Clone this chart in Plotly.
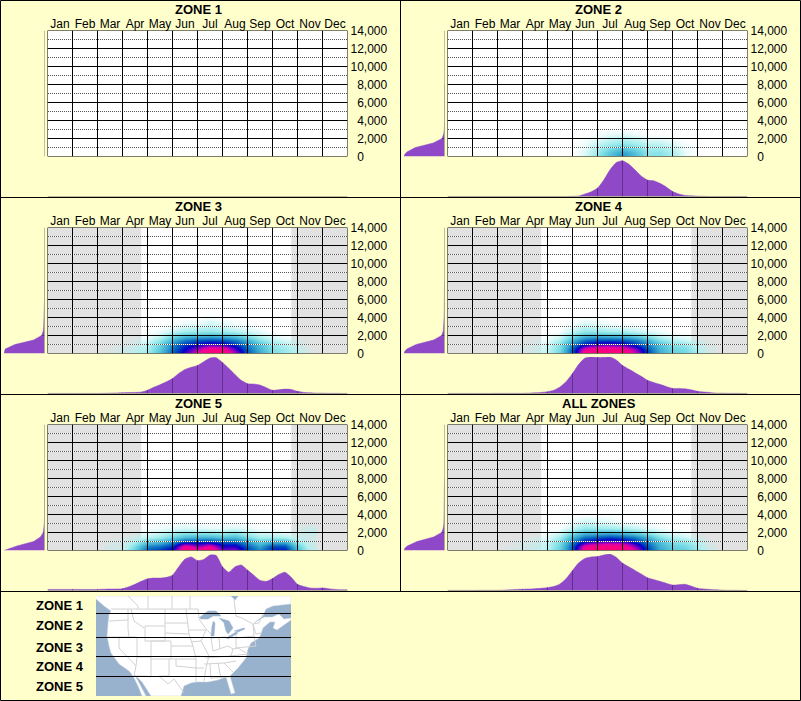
import numpy as np
import plotly.graph_objects as go

W, H = 801, 701
BG = "#FFFFCC"
PURPLE = "#8E48C8"
PURPLE_DARK = "#5E3088"
AXIS_GREY = "#808068"
FONT = "Liberation Sans, Arial, sans-serif"

MONTHS = ["Jan", "Feb", "Mar", "Apr", "May", "Jun", "Jul", "Aug", "Sep", "Oct", "Nov", "Dec"]
Y_TICKS = [0, 2000, 4000, 6000, 8000, 10000, 12000, 14000]
Y_LABELS = ["\u00a0\u00a00", "\u00a0\u00a02,000", "\u00a0\u00a04,000", "\u00a0\u00a06,000",
            "\u00a0\u00a08,000", "10,000", "12,000", "14,000"]
TITLES = ["ZONE 1", "ZONE 2", "ZONE 3", "ZONE 4", "ZONE 5", "ALL ZONES"]
LEGEND_ZONES = ["ZONE 1", "ZONE 2", "ZONE 3", "ZONE 4", "ZONE 5"]

# Monthly density profiles (quarter-month steps, Jan 1 .. Dec 31, peak about 100)
PROFILE_X = [i * 0.25 for i in range(49)]
ZONE2_MONTH = [0] * 20 + [0.5, 1.5, 7, 13, 23, 45, 73, 93, 98, 89, 73, 56, 45, 43, 36, 26, 14, 7, 3, 2, 1, 0.5] + [0] * 7
ZONE3_MONTH = [0.3] * 9 + [0.5, 1, 1.5, 2, 2.5, 3, 4, 9, 17, 24, 32, 41, 55, 66, 72, 77, 87, 97, 98, 85, 69, 52, 36, 27, 26, 23, 16, 9, 10, 12, 11, 6, 3, 2, 1, 1, 0.5, 0.5, 0.3, 0.3]
ZONE4_MONTH = [0.3] * 8 + [0.5, 0.5, 0.5, 0.5, 0.5, 1, 2, 3, 5, 9, 18, 33, 55, 80, 97, 100, 99, 99, 100, 92, 77, 67, 57, 47, 36, 30, 25, 19, 14, 14, 13, 10, 6, 4, 3, 1, 1, 0.5, 0.5, 0.3, 0.3]
ZONE5_MONTH = [3, 3, 3, 3, 3, 3, 2.5, 2.5, 3, 3.5, 4, 4, 5, 10, 17, 25, 32, 34, 34, 36, 42, 65, 86, 92, 82, 85, 97, 96, 65, 50, 65, 70, 56, 42, 28, 25, 33, 44, 50, 36, 17, 11, 7, 6, 7, 5, 3, 2, 2]
ALL_MONTH = [0.3] * 5 + [0.5, 0.5, 0.5, 0.5, 1, 2, 3, 3.5, 4, 5, 6, 8, 11, 18, 33, 55, 76, 88, 92, 93, 97, 100, 91, 75, 65, 55, 45, 35, 30, 25, 20, 15, 16, 17, 12, 6, 4, 3, 2, 1, 0.5, 0.5, 0.3, 0.3]

# Elevation density profiles (feet, relative density)
ELEV_Y = [0, 250, 500, 1000, 1500, 2000, 2500, 3000, 4000, 5000, 6000, 8000]
ZONE2_ELEV = [100, 98, 93, 72, 28, 6, 2, 0.5, 0, 0, 0, 0]
ZONE3_ELEV = [100, 99, 97, 73, 27, 7, 3, 2, 1, 0.5, 0, 0]
ZONE4_ELEV = [100, 98, 93, 70, 27, 7, 3, 2, 1, 0.5, 0, 0]
ZONE5_ELEV = [100, 85, 68, 27, 10, 3, 1.5, 0.5, 0, 0, 0, 0]
ALL_ELEV = [100, 98, 92, 68, 27, 7, 3, 1.5, 1, 0.5, 0, 0]

# Month-by-elevation density grids
HEAT_X = [2.5, 3, 3.5, 4, 4.5, 5, 5.5, 6, 6.5, 7, 7.5, 8, 8.5, 9, 9.5, 10, 10.5]
HEAT_Y = [0, 500, 1000, 1500, 2000, 2500, 3000, 3500, 4000]
ZONE2_HEAT = [
    [0, 0, 0, 0, 0, 0, 5, 16, 28, 40, 30, 17, 18, 12, 3, 0, 0],
    [0, 0, 0, 0, 0, 0, 4, 14, 26, 36, 28, 16, 17, 11, 3, 0, 0],
    [0, 0, 0, 0, 0, 0, 3, 11, 18, 24, 19, 12, 12, 8, 2, 0, 0],
    [0, 0, 0, 0, 0, 0, 2, 7, 12, 15, 12, 8, 8, 4, 1, 0, 0],
    [0, 0, 0, 0, 0, 0, 1, 3, 7, 9, 7, 3, 3, 1, 0, 0, 0],
    [0, 0, 0, 0, 0, 0, 0, 1, 3, 4, 2, 0, 0, 0, 0, 0, 0],
    [0] * 17, [0] * 17, [0] * 17,
]
ZONE3_HEAT = [
    [2, 5, 9, 14, 28, 50, 66, 88, 100, 100, 80, 50, 35, 20, 15, 8, 2],
    [1, 4, 7, 12, 26, 46, 62, 78, 95, 94, 70, 47, 32, 18, 14, 7, 1],
    [0, 2, 4, 10, 22, 42, 55, 62, 68, 66, 56, 42, 28, 15, 10, 5, 0],
    [0, 0, 2, 5, 15, 32, 44, 50, 52, 50, 44, 32, 18, 9, 5, 2, 0],
    [0, 0, 0, 2, 6, 18, 26, 28, 30, 28, 24, 15, 8, 3, 1, 0, 0],
    [0, 0, 0, 0, 2, 7, 12, 14, 15, 13, 10, 6, 3, 0, 0, 0, 0],
    [0, 0, 0, 0, 0, 2, 5, 6, 8, 6, 3, 2, 0, 0, 0, 0, 0],
    [0, 0, 0, 0, 0, 0, 2, 2, 5, 3, 1, 0, 0, 0, 0, 0, 0],
    [0, 0, 0, 0, 0, 0, 0, 0, 1, 0, 0, 0, 0, 0, 0, 0, 0],
]
ZONE4_HEAT = [
    [1, 2, 4, 8, 22, 52, 96, 100, 100, 100, 84, 54, 34, 24, 22, 12, 3],
    [1, 2, 4, 8, 20, 50, 88, 96, 96, 95, 76, 50, 32, 22, 20, 10, 2],
    [0, 1, 3, 6, 18, 42, 60, 68, 70, 66, 56, 42, 28, 18, 15, 7, 1],
    [0, 0, 1, 3, 11, 32, 46, 52, 52, 50, 44, 32, 18, 10, 7, 3, 0],
    [0, 0, 0, 1, 5, 18, 28, 30, 28, 27, 22, 14, 7, 3, 2, 0, 0],
    [0, 0, 0, 0, 1, 8, 15, 14, 12, 11, 8, 4, 2, 0, 0, 0, 0],
    [0, 0, 0, 0, 0, 3, 8, 6, 4, 3, 2, 1, 0, 0, 0, 0, 0],
    [0, 0, 0, 0, 0, 1, 4, 3, 1, 0, 0, 0, 0, 0, 0, 0, 0],
    [0] * 17,
]
ZONE5_HEAT = [
    [3, 5, 25, 50, 55, 65, 100, 90, 100, 74, 76, 54, 42, 58, 60, 30, 8],
    [3, 4, 20, 42, 46, 56, 90, 76, 88, 64, 66, 48, 36, 52, 52, 24, 6],
    [1, 3, 10, 24, 28, 38, 52, 54, 54, 48, 46, 36, 24, 30, 30, 13, 4],
    [0, 1, 4, 9, 14, 22, 30, 32, 32, 28, 30, 20, 12, 12, 11, 5, 3],
    [0, 0, 1, 3, 6, 10, 14, 14, 14, 11, 15, 9, 5, 4, 2, 3, 7],
    [0, 0, 0, 1, 2, 4, 5, 4, 3, 3, 5, 3, 1, 1, 0, 2, 5],
    [0, 0, 0, 0, 1, 1, 2, 1, 1, 1, 1, 1, 0, 0, 0, 0, 0],
    [0] * 17, [0] * 17,
]
ALL_HEAT = [
    [2, 3, 5, 9, 24, 52, 96, 100, 100, 100, 84, 54, 36, 26, 24, 14, 4],
    [1, 3, 5, 9, 22, 50, 88, 96, 96, 95, 76, 50, 33, 24, 21, 12, 3],
    [0, 2, 4, 7, 19, 42, 60, 66, 70, 67, 56, 42, 28, 18, 15, 8, 1],
    [0, 0, 2, 4, 12, 32, 46, 50, 54, 50, 44, 32, 18, 10, 7, 3, 0],
    [0, 0, 0, 1, 5, 18, 28, 28, 30, 27, 22, 14, 7, 3, 2, 0, 0],
    [0, 0, 0, 0, 1, 8, 15, 14, 13, 11, 8, 4, 2, 0, 0, 0, 0],
    [0, 0, 0, 0, 0, 3, 8, 6, 5, 3, 2, 1, 0, 0, 0, 0, 0],
    [0, 0, 0, 0, 0, 1, 4, 3, 2, 0, 0, 0, 0, 0, 0, 0, 0],
    [0] * 17,
]
HEAT_SCALE = [
    [0.00, "rgba(176,240,240,0)"], [0.04, "rgba(176,240,240,0.4)"], [0.10, "rgba(176,240,240,0.95)"],
    [0.20, "rgb(120,220,228)"], [0.35, "rgb(56,170,208)"], [0.50, "rgb(0,90,190)"],
    [0.62, "rgb(0,0,200)"], [0.74, "rgb(130,0,195)"], [0.85, "rgb(235,0,160)"], [1.00, "rgb(255,0,120)"],
]

# Map outlines, in map pixels measured from the map's top-left corner
MAP_W, MAP_H = 195, 100
LAND = [
    (0, 0), (195, 0), (195, 8), (177, 10), (170, 13), (167, 20), (158, 27), (168, 21), (176, 21), (183, 18), (188, 23),
    (195, 22), (195, 24), (181, 34), (177, 32), (179, 26), (174, 26), (167, 32), (165, 38), (163, 42), (155, 47),
    (152, 53), (150, 62), (142, 72), (134, 80), (139, 97), (135, 98), (130, 81), (122, 84), (112, 86), (100, 86),
    (95, 87), (88, 90), (85, 100), (55, 100), (46, 86), (39, 79), (44, 88), (50, 100), (46, 100), (42, 90), (37, 80),
    (33, 75), (23, 68), (15, 57), (13, 50), (11, 40), (12, 27), (13, 18), (15, 15), (8, 10), (0, 3),
]
LAKES = [
    [(135, 0), (142, 0), (139, 4)],
    [(103, 22), (112, 15), (120, 15), (125, 20), (117, 20), (112, 23), (105, 23)],
    [(117, 25), (119, 27), (118, 40), (115, 40), (116, 30)],
    [(123, 22), (133, 25), (137, 32), (132, 38), (130, 35), (128, 27)],
    [(130, 42), (140, 36), (142, 37), (132, 43)],
    [(138, 35), (148, 32), (149, 33), (142, 36)],
]
STATE_LINES = [
    [(15, 13), (102, 13), (103, 22)], [(32, 0), (42, 10), (42, 13)], [(52, 0), (52, 13)], [(76, 0), (76, 13)],
    [(94, 0), (94, 13)], [(32, 13), (32, 33), (33, 41)], [(13, 25), (32, 24)], [(11, 41), (41, 41)],
    [(35, 13), (38, 25), (48, 32)], [(49, 30), (69, 30), (69, 45), (49, 45), (49, 30)], [(41, 41), (41, 61), (55, 61), (55, 45)],
    [(23, 41), (23, 52), (40, 70), (41, 61)], [(40, 70), (38, 80), (50, 80), (55, 81), (55, 61)],
    [(55, 45), (75, 45), (75, 63), (55, 63)], [(73, 63), (73, 80), (63, 80)], [(69, 13), (69, 30)], [(69, 27), (92, 27)],
    [(69, 37), (93, 38)], [(75, 50), (97, 50)], [(75, 63), (100, 63)], [(90, 13), (92, 27), (93, 38), (97, 50), (100, 63)],
    [(80, 63), (80, 70), (100, 72), (108, 72)], [(63, 80), (72, 88), (78, 83), (88, 97)],
    [(103, 23), (110, 33), (115, 38)], [(93, 34), (110, 34)], [(95, 46), (105, 45)], [(110, 34), (105, 45), (113, 60), (110, 72), (108, 85)],
    [(115, 42), (117, 55)], [(100, 60), (112, 61)], [(100, 63), (100, 87)], [(110, 62), (135, 60)], [(108, 68), (128, 67)],
    [(117, 55), (123, 53), (132, 50), (137, 53), (135, 60)], [(123, 42), (124, 53)], [(115, 42), (130, 41)],
    [(140, 36), (140, 52), (160, 50), (158, 40), (140, 42)], [(158, 40), (157, 28), (146, 22)], [(157, 28), (160, 38), (165, 37)],
    [(133, 60), (153, 58)], [(137, 53), (142, 52), (150, 57)], [(114, 68), (115, 83)], [(122, 67), (125, 82)], [(115, 82), (133, 81)],
    [(128, 67), (140, 65)], [(128, 67), (138, 77)], [(163, 27), (167, 18)], [(157, 28), (163, 27)], [(138, 3), (140, 20), (146, 22)],
]
MAP_ZONE_LINES = [17.5, 41.5, 60.5, 80.5]
LEGEND_Y = [605, 625, 647, 666, 686]


def dom_x(a, b):
    return [a / W, b / W]


def dom_y(top, bottom):
    return [1 - bottom / H, 1 - top / H]


def grid_lines(xs, y0, y1, ys, x0, x1):
    out_x, out_y = [], []
    for x in xs:
        out_x += [x, x, None]
        out_y += [y0, y1, None]
    for y in ys:
        out_x += [x0, x1, None]
        out_y += [y, y, None]
    return out_x, out_y


PANELS = [
    dict(x=0, y=0, month=None, elev=None, heat=None, grey=False),
    dict(x=400, y=0, month=ZONE2_MONTH, elev=ZONE2_ELEV, heat=ZONE2_HEAT, grey=False),
    dict(x=0, y=197, month=ZONE3_MONTH, elev=ZONE3_ELEV, heat=ZONE3_HEAT, grey=True),
    dict(x=400, y=197, month=ZONE4_MONTH, elev=ZONE4_ELEV, heat=ZONE4_HEAT, grey=True),
    dict(x=0, y=394, month=ZONE5_MONTH, elev=ZONE5_ELEV, heat=ZONE5_HEAT, grey=True),
    dict(x=400, y=394, month=ALL_MONTH, elev=ALL_ELEV, heat=ALL_HEAT, grey=True),
]

fig = go.Figure()
layout = dict(
    template="none", width=W, height=H, margin=dict(l=0, r=0, t=0, b=0, pad=0, autoexpand=False), paper_bgcolor=BG,
    plot_bgcolor="rgba(0,0,0,0)", showlegend=False, font=dict(family=FONT, size=12, color="#000"), autosize=False,
)
shapes, annotations = [], []
HIDDEN = dict(visible=False, fixedrange=True, automargin=False)
LINE_KW = dict(mode="lines", hoverinfo="skip", cliponaxis=False)
n = 0


def new_axes():
    global n
    n += 1
    s = "" if n == 1 else str(n)
    return "x" + s, "y" + s, "xaxis" + s, "yaxis" + s


for title, p in zip(TITLES, PANELS):
    ox, oy = p["x"], p["y"]
    left, right = ox + 47.5, ox + 347.5
    top, bottom = oy + 30.5, oy + 156.5

    # main plot
    xa, ya, xk, yk = new_axes()
    layout[xk] = dict(domain=dom_x(left, right), range=[0, 12], anchor=ya, side="top", tickmode="array",
                      tickvals=[i + 0.5 for i in range(12)], ticktext=MONTHS, showgrid=False, zeroline=False,
                      ticks="", showline=False, fixedrange=True, ticklabelstandoff=-1,
                      tickfont=dict(family=FONT, size=12, color="#000"), tickangle=0, automargin=False)
    layout[yk] = dict(domain=dom_y(top, bottom), range=[0, 14000], anchor=xa, side="right", tickmode="array",
                      tickvals=Y_TICKS, ticktext=Y_LABELS, showgrid=False, zeroline=False,
                      ticks="", showline=False, fixedrange=True, ticklabelstandoff=2,
                      tickfont=dict(family=FONT, size=12, color="#000"), automargin=False)
    shapes.append(dict(type="rect", xref=xa, yref=ya, x0=0, x1=12, y0=0, y1=14000, fillcolor="white",
                       line=dict(width=0), layer="below"))
    if p["grey"]:
        for a, b in ((0, 3.75), (9.75, 12)):
            shapes.append(dict(type="rect", xref=xa, yref=ya, x0=a, x1=b, y0=0, y1=14000, fillcolor="#E2E2E2",
                               line=dict(width=0), layer="below"))
    if p["heat"] is not None:
        fig.add_trace(go.Heatmap(x=HEAT_X, y=HEAT_Y, z=p["heat"], xaxis=xa, yaxis=ya, zmin=0, zmax=100,
                                 colorscale=HEAT_SCALE, zsmooth="best", showscale=False, hoverinfo="skip"))
    dx, dy = grid_lines([], 0, 0, [1000, 3000, 5000, 7000, 9000, 11000, 13000], 0.02, 12)
    fig.add_trace(go.Scatter(x=dx, y=dy, xaxis=xa, yaxis=ya, line=dict(color="white", width=1), **LINE_KW))
    fig.add_trace(go.Scatter(x=dx, y=dy, xaxis=xa, yaxis=ya, line=dict(color="#555", width=1, dash="1px,1px"), **LINE_KW))
    gx, gy = grid_lines(list(range(13)), 0, 14000, Y_TICKS, 0, 12)
    fig.add_trace(go.Scatter(x=gx, y=gy, xaxis=xa, yaxis=ya, line=dict(color="#000", width=1), **LINE_KW))

    # month profile below
    xa, ya, xk, yk = new_axes()
    layout[xk] = dict(domain=dom_x(left, right), range=[0, 12], anchor=ya, **HIDDEN)
    layout[yk] = dict(domain=dom_y(oy + 160, oy + 196.5), range=[0, 100], anchor=xa, **HIDDEN)
    if p["month"] is not None:
        fig.add_trace(go.Scatter(x=PROFILE_X, y=p["month"], xaxis=xa, yaxis=ya, mode="lines", fill="tozeroy",
                                 fillcolor=PURPLE, line=dict(color=PURPLE, width=0.5, shape="spline", smoothing=0.6),
                                 hoverinfo="skip"))
        sx, sy = [], []
        for m in range(1, 12):
            sx += [m, m, None]
            sy += [0, float(np.interp(m, PROFILE_X, p["month"])), None]
        fig.add_trace(go.Scatter(x=sx, y=sy, xaxis=xa, yaxis=ya, line=dict(color=PURPLE_DARK, width=1), **LINE_KW))
    fig.add_trace(go.Scatter(x=[0, 12], y=[0, 0], xaxis=xa, yaxis=ya, line=dict(color=AXIS_GREY, width=1), **LINE_KW))

    # elevation profile at left
    xa, ya, xk, yk = new_axes()
    layout[xk] = dict(domain=dom_x(ox + 4, ox + 44.5), range=[100, 0], anchor=ya, **HIDDEN)
    layout[yk] = dict(domain=dom_y(top, bottom), range=[0, 14000], anchor=xa, **HIDDEN)
    if p["elev"] is not None:
        fig.add_trace(go.Scatter(x=p["elev"], y=ELEV_Y, xaxis=xa, yaxis=ya, mode="lines", fill="tozerox",
                                 fillcolor=PURPLE, line=dict(color=PURPLE, width=0.5), hoverinfo="skip"))
        sx = [float(np.interp(2000, ELEV_Y, p["elev"])), 0]
        fig.add_trace(go.Scatter(x=sx, y=[2000, 2000], xaxis=xa, yaxis=ya, line=dict(color=PURPLE_DARK, width=1), **LINE_KW))
    fig.add_trace(go.Scatter(x=[0, 0], y=[0, 14000], xaxis=xa, yaxis=ya, line=dict(color=AXIS_GREY, width=1), **LINE_KW))

    annotations.append(dict(xref="paper", yref="paper", x=(ox + 198.5) / W, y=1 - (oy + 9) / H, text=title,
                            showarrow=False, xanchor="center", yanchor="middle",
                            font=dict(family=FONT, size=13, color="#000", weight="bold")))

# map
xa, ya, xk, yk = new_axes()
layout[xk] = dict(domain=dom_x(96, 96 + MAP_W), range=[0, MAP_W], anchor=ya, **HIDDEN)
layout[yk] = dict(domain=dom_y(596, 596 + MAP_H), range=[MAP_H, 0], anchor=xa, **HIDDEN)
shapes.append(dict(type="rect", xref=xa, yref=ya, x0=0, x1=MAP_W, y0=0, y1=MAP_H, fillcolor="#98B2CE",
                   line=dict(width=0), layer="below"))
fig.add_trace(go.Scatter(x=[q[0] for q in LAND], y=[q[1] for q in LAND], xaxis=xa, yaxis=ya, mode="lines",
                         fill="toself", fillcolor="white", line=dict(color="#C4D0DC", width=0.5), hoverinfo="skip"))
sx, sy = [], []
for seg in STATE_LINES:
    sx += [q[0] for q in seg] + [None]
    sy += [q[1] for q in seg] + [None]
fig.add_trace(go.Scatter(x=sx, y=sy, xaxis=xa, yaxis=ya, mode="lines", line=dict(color="#D2D2D2", width=1), hoverinfo="skip"))
for lake in LAKES:
    fig.add_trace(go.Scatter(x=[q[0] for q in lake], y=[q[1] for q in lake], xaxis=xa, yaxis=ya, mode="lines",
                             fill="toself", fillcolor="#98B2CE", line=dict(color="#98B2CE", width=0.5), hoverinfo="skip"))
zx, zy = grid_lines([], 0, 0, MAP_ZONE_LINES, 0, MAP_W)
fig.add_trace(go.Scatter(x=zx, y=zy, xaxis=xa, yaxis=ya, line=dict(color="#000", width=1), **LINE_KW))

for name, py in zip(LEGEND_ZONES, LEGEND_Y):
    annotations.append(dict(xref="paper", yref="paper", x=34 / W, y=1 - py / H, text=name, showarrow=False,
                            xanchor="left", yanchor="middle",
                            font=dict(family=FONT, size=13, color="#000", weight="bold")))

# panel borders
for a, b, c, d in [(0.5, 0.5, 800.5, 0.5), (0.5, 197.5, 800.5, 197.5), (0.5, 394.5, 800.5, 394.5), (0.5, 591.5, 800.5, 591.5),
                   (0.5, 700.5, 800.5, 700.5), (0.5, 0.5, 0.5, 700.5), (800.5, 0.5, 800.5, 700.5), (400.5, 0.5, 400.5, 591.5)]:
    shapes.append(dict(type="line", xref="paper", yref="paper", x0=a / W, x1=c / W, y0=1 - b / H, y1=1 - d / H,
                       line=dict(color="#000", width=1), layer="above"))

layout["shapes"] = shapes
layout["annotations"] = annotations
fig.update_layout(**layout)
fig.write_html("out.html", config=dict(displayModeBar=False, responsive=False),
               post_script="document.body.style.margin='0';document.documentElement.style.background='#FFFFCC';document.body.style.overflow='hidden';")
